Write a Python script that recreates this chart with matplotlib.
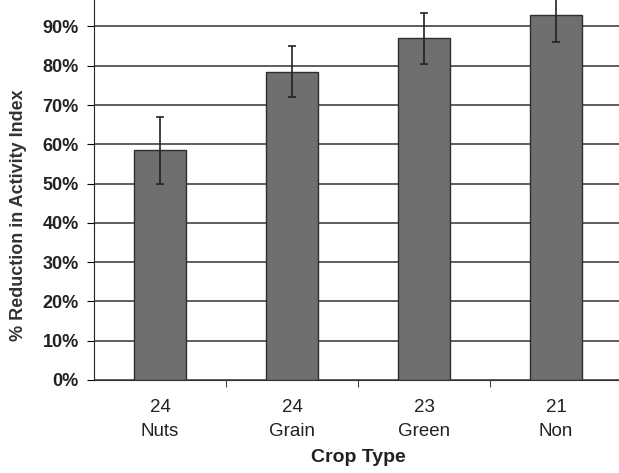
import matplotlib
matplotlib.use("Agg")
import matplotlib.pyplot as plt
from matplotlib.ticker import FuncFormatter

plt.rcParams["font.family"] = ["Liberation Sans", "DejaVu Sans"]

# values (fraction of 1)
crop_types = ["Nuts", "Grain", "Green", "Non"]
n_counts = [24, 24, 23, 21]
reduction = [0.585, 0.785, 0.87, 0.93]
err = [0.085, 0.065, 0.065, 0.07]
y_ticks = [i / 10 for i in range(11)]

fig = plt.figure(figsize=(6.19, 4.73), dpi=100)
ax = fig.add_axes([0.152, 0.197, 0.853, 0.83])

x = list(range(len(crop_types)))
ax.bar(x, reduction, width=0.4, color="#6f6f6f", edgecolor="#2e2e2e",
       linewidth=1.0, zorder=3)
ax.errorbar(x, reduction, yerr=err, fmt="none", ecolor="#222222",
            elinewidth=1.2, capsize=3, capthick=1.2, zorder=4)

ax.set_xlim(-0.5, len(crop_types) - 0.5)
ax.set_ylim(0, 1.0)
ax.set_yticks(y_ticks)
ax.yaxis.set_major_formatter(FuncFormatter(lambda v, _: f"{v * 100:.0f}%"))
ax.grid(axis="y", color="#333333", linewidth=1.1, zorder=0)

# tick marks sit between categories, labels at the bar centres
ax.set_xticks([i + 0.5 for i in x[:-1]])
ax.set_xticklabels([])
ax.set_xticks(x, minor=True)
ax.set_xticklabels([f"{n}\n{c}" for n, c in zip(n_counts, crop_types)],
                   minor=True, fontsize=13.5, color="#222222", linespacing=1.5)
ax.tick_params(axis="x", which="minor", length=0, pad=14)
ax.tick_params(axis="x", which="major", length=5, direction="out", color="#444444")
ax.tick_params(axis="y", length=5, direction="out", pad=6, labelsize=13,
               labelcolor="#222222")
for lab in ax.get_yticklabels():
    lab.set_fontweight("bold")

for side in ["top", "right"]:
    ax.spines[side].set_visible(False)
ax.spines["left"].set_color("#222222")
ax.spines["bottom"].set_color("#333333")

ax.set_xlabel("Crop Type", fontsize=14, fontweight="bold", color="#222222",
              labelpad=7)
fig.text(0.03, 0.545, "% Reduction in Activity Index", rotation=90,
         ha="center", va="center", fontsize=13, fontweight="bold",
         color="#333333")

fig.savefig("out.png", dpi=100)
